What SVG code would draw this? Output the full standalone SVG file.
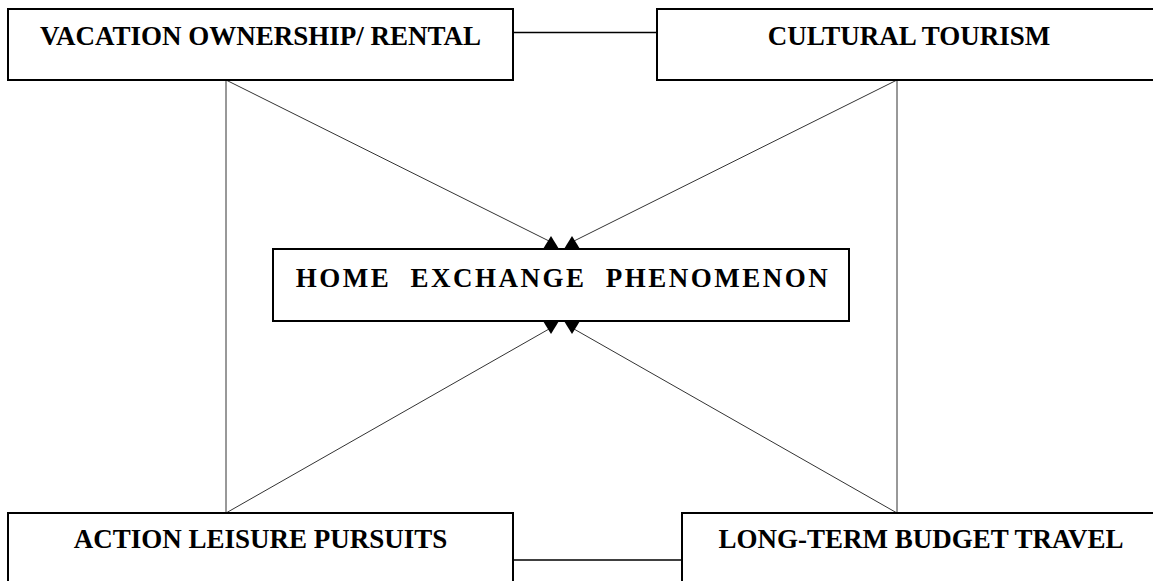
<svg xmlns="http://www.w3.org/2000/svg" width="1153" height="581" viewBox="0 0 1153 581">
<style>
.box{fill:#fff;stroke:#000;stroke-width:2}
.lbl{font-family:"Liberation Serif","Times New Roman",serif;font-weight:bold;font-size:27px;fill:#000;text-anchor:middle}
.thin{stroke:#333;stroke-width:1;fill:none}
.link{stroke:#000;stroke-width:1.5;fill:none}
.head{fill:#000;stroke:none}
</style>
<rect width="1153" height="581" fill="#fff"/>
<g id="connectors">
<line class="link" x1="513" y1="32.5" x2="657" y2="32.5"/>
<line class="link" x1="513" y1="560" x2="682" y2="560"/>
<line class="thin" x1="226" y1="80" x2="226" y2="513"/>
<line class="thin" x1="897" y1="80" x2="897" y2="513"/>
<line class="thin" x1="226" y1="80" x2="549" y2="241"/>
<line class="thin" x1="897" y1="80" x2="574" y2="241"/>
<line class="thin" x1="226" y1="513" x2="549" y2="329"/>
<line class="thin" x1="897" y1="513" x2="574" y2="329"/>
<polygon class="head" points="543,249 559,249 551,236"/>
<polygon class="head" points="564,249 580,249 572,236"/>
<polygon class="head" points="543,321 559,321 551,334"/>
<polygon class="head" points="564,321 580,321 572,334"/>
</g>
<g id="vacation">
<rect class="box" x="8" y="9" width="505" height="71"/>
<text class="lbl" x="260.5" y="45">VACATION OWNERSHIP/ RENTAL</text>
</g>
<g id="cultural">
<rect class="box" x="657" y="9" width="503" height="71"/>
<text class="lbl" x="909" y="45">CULTURAL TOURISM</text>
</g>
<g id="home">
<rect class="box" x="273" y="249" width="576" height="72"/>
<text class="lbl" x="563" y="287" font-size="30" letter-spacing="2.5" word-spacing="10">HOME EXCHANGE PHENOMENON</text>
</g>
<g id="action">
<rect class="box" x="8" y="513" width="505" height="80"/>
<text class="lbl" x="260.5" y="548">ACTION LEISURE PURSUITS</text>
</g>
<g id="longterm">
<rect class="box" x="682" y="513" width="480" height="80"/>
<text class="lbl" x="921" y="548">LONG-TERM BUDGET TRAVEL</text>
</g>
</svg>
